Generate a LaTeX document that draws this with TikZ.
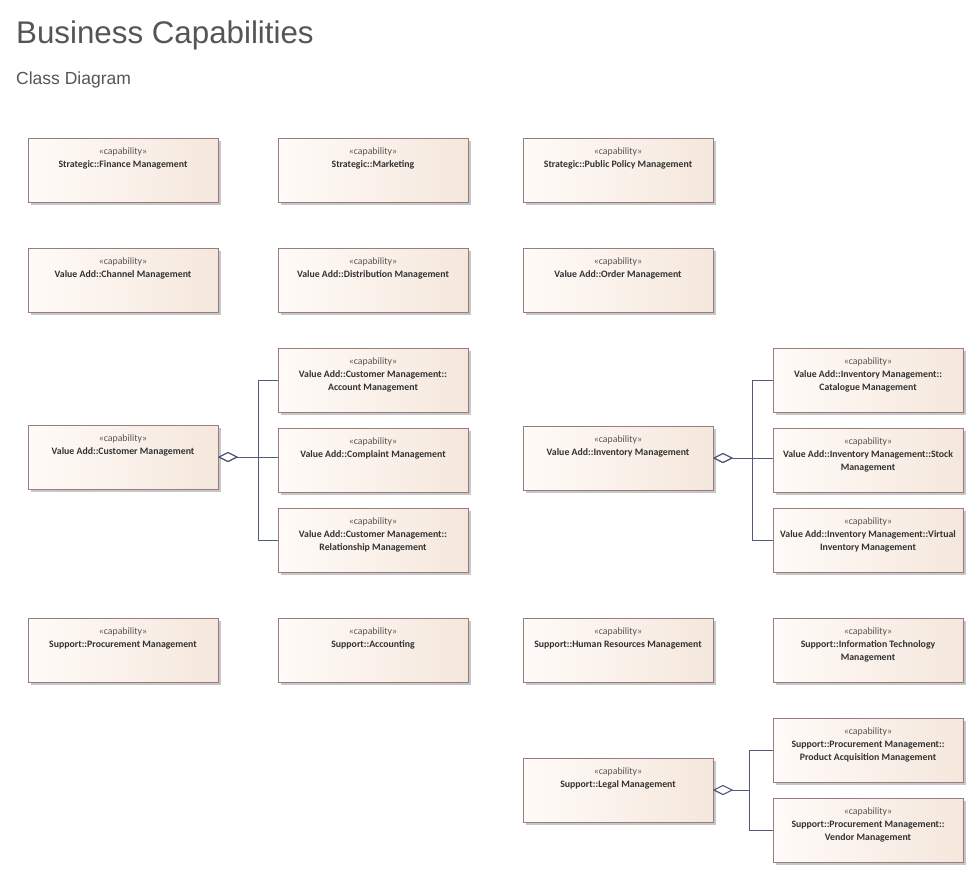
\documentclass[tikz,border=0pt]{standalone}
\usepackage{fontspec}
\setmainfont{Carlito}
\newfontfamily\headfont{Liberation Sans}
\usetikzlibrary{arrows.meta, positioning, shadows}
\definecolor{capline}{RGB}{152,124,126}
\definecolor{capleft}{RGB}{255,251,248}
\definecolor{capright}{RGB}{245,231,220}
\definecolor{connline}{RGB}{80,90,122}
\definecolor{stereo}{RGB}{85,85,85}
\definecolor{captxt}{RGB}{50,50,50}
\definecolor{headtxt}{RGB}{85,85,85}

\newcommand{\capab}[1]{\parbox[c][52pt][t]{182pt}{\centering\rule{0pt}{10.2pt}{\color{stereo}«capability»}\\\bfseries #1}}

\begin{document}
\begin{tikzpicture}[x=1pt,y=-1pt,
  capbox/.style={draw=capline,line width=0.8pt,left color=capleft,right color=capright,
    inner xsep=4pt,inner ysep=6pt,outer sep=0pt,anchor=north west,text=captxt,
    font=\fontsize{9.8}{13}\selectfont,
    drop shadow={shadow xshift=3pt,shadow yshift=-3pt,fill=black!22,opacity=1}},
  agg/.style={draw=connline,line width=0.8pt,{Diamond[open,length=20pt,width=10pt]}-},
  head/.style={anchor=base west,inner sep=0pt,text=headtxt}]

  \useasboundingbox (0,0) rectangle (973,892);

  \node[head,font=\headfont\fontsize{31.3}{36}\selectfont] (title) at (16,43.5) {Business Capabilities};
  \node[head,font=\headfont\fontsize{17.5}{20}\selectfont] (subtitle) at (16,84.5) {Class Diagram};

  \node[capbox]       (fin)      at (28,138)              {\capab{Strategic::Finance Management}};
  \node[capbox]       (mkt)      [right=60pt of fin]      {\capab{Strategic::Marketing}};
  \node[capbox]       (policy)   [right=55pt of mkt]      {\capab{Strategic::Public Policy Management}};

  \node[capbox]       (channel)  [below=46pt of fin]      {\capab{Value Add::Channel Management}};
  \node[capbox]       (distrib)  [right=60pt of channel]  {\capab{Value Add::Distribution Management}};
  \node[capbox]       (order)    [right=55pt of distrib]  {\capab{Value Add::Order Management}};

  \node[capbox]       (cust)     at (28,425)              {\capab{Value Add::Customer Management}};
  \node[capbox]       (acct)     [below=36pt of distrib]  {\capab{Value Add::Customer Management::\\Account Management}};
  \node[capbox]       (compl)    [below=16pt of acct]     {\capab{Value Add::Complaint Management}};
  \node[capbox]       (relat)    [below=16pt of compl]    {\capab{Value Add::Customer Management::\\Relationship Management}};

  \node[capbox]       (inv)      at (523,426)             {\capab{Value Add::Inventory Management}};
  \node[capbox]       (catal)    at (773,348)             {\capab{Value Add::Inventory Management::\\Catalogue Management}};
  \node[capbox]       (stock)    [below=16pt of catal]    {\capab{Value Add::Inventory Management::Stock\\Management}};
  \node[capbox]       (virt)     [below=16pt of stock]    {\capab{Value Add::Inventory Management::Virtual\\Inventory Management}};

  \node[capbox]       (procure)  at (28,618)              {\capab{Support::Procurement Management}};
  \node[capbox]       (acctg)    [right=60pt of procure]  {\capab{Support::Accounting}};
  \node[capbox]       (hr)       [right=55pt of acctg]    {\capab{Support::Human Resources Management}};
  \node[capbox]       (it)       [right=60pt of hr]       {\capab{Support::Information Technology\\Management}};

  \node[capbox]       (legal)    at (523,758)             {\capab{Support::Legal Management}};
  \node[capbox]       (prodacq)  [below=36pt of it]       {\capab{Support::Procurement Management::\\Product Acquisition Management}};
  \node[capbox]       (vendor)   [below=16pt of prodacq]  {\capab{Support::Procurement Management::\\Vendor Management}};

  \coordinate (custbus)  at (258,457);
  \coordinate (invbus)   at (752,458);
  \coordinate (legalbus) at (749,790);

  \draw[agg] (cust.east)  -- (custbus) |- (acct.west);
  \draw[agg] (cust.east)  -- (compl.west |- cust.east);
  \draw[agg] (cust.east)  -- (custbus) |- (relat.west);

  \draw[agg] (inv.east)   -- (invbus) |- (catal.west);
  \draw[agg] (inv.east)   -- (stock.west |- inv.east);
  \draw[agg] (inv.east)   -- (invbus) |- (virt.west);

  \draw[agg] (legal.east) -- (legalbus) |- (prodacq.west);
  \draw[agg] (legal.east) -- (legalbus) |- (vendor.west);
\end{tikzpicture}
\end{document}
